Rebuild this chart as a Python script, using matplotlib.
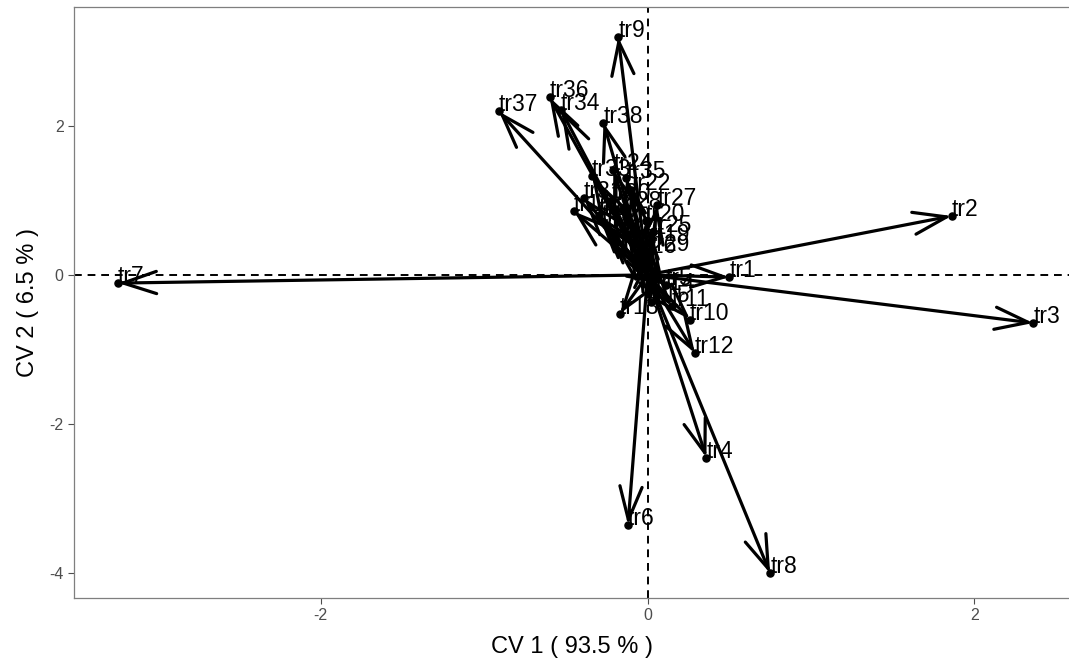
import matplotlib
matplotlib.use("Agg")
import matplotlib.pyplot as plt

plt.rcParams["axes.unicode_minus"] = False

# canonical scores of the traits (CV1, CV2)
traits = ["tr1", "tr2", "tr3", "tr4", "tr5", "tr6", "tr7", "tr8", "tr9", "tr10",
          "tr11", "tr12", "tr13", "tr14", "tr15", "tr16", "tr17", "tr18", "tr19", "tr20",
          "tr21", "tr22", "tr23", "tr24", "tr25", "tr26", "tr27", "tr28", "tr29", "tr30",
          "tr31", "tr32", "tr33", "tr34", "tr35", "tr36", "tr37", "tr38"]
cv1 = [0.50, 1.86, 2.36, 0.36, 0.11, -0.12, -3.24, 0.75, -0.18, 0.26,
       0.15, 0.29, -0.17, 0.05, 0.02, -0.45, -0.25, -0.30, 0.02, -0.01,
       -0.12, -0.10, -0.20, -0.21, 0.03, -0.06, 0.06, -0.15, 0.02, -0.22,
       -0.39, -0.28, -0.34, -0.53, -0.13, -0.60, -0.91, -0.27]
cv2 = [-0.03, 0.79, -0.645, -2.45, -0.13, -3.35, -0.11, -4.0, 3.19, -0.60,
       -0.42, -1.05, -0.52, -0.20, -0.36, 0.85, 0.65, 0.80, 0.45, 0.72,
       0.55, 1.14, 0.40, 1.41, 0.58, 0.30, 0.93, 0.90, 0.32, 1.00,
       1.03, 0.72, 1.32, 2.21, 1.30, 2.38, 2.19, 2.04]

x_label = "CV 1 ( 93.5 % )"
y_label = "CV 2 ( 6.5 % )"

fig = plt.figure(figsize=(10.69, 6.62), dpi=100)
ax = fig.add_axes([0.0692, 0.0967, 0.9318, 0.8927])

ax.axhline(0, color="black", lw=1.4, ls=(0, (4, 3)), zorder=1)
ax.axvline(0, color="black", lw=1.4, ls=(0, (4, 3)), zorder=1)

for name, x, y in zip(traits, cv1, cv2):
    ax.annotate("", xy=(x, y), xytext=(0, 0),
                arrowprops=dict(arrowstyle="->,head_length=2.4,head_width=0.8",
                                mutation_scale=10, lw=2.3, color="black",
                                shrinkA=0, shrinkB=0), zorder=2)

ax.scatter(cv1, cv2, s=26, color="black", zorder=3)
for name, x, y in zip(traits, cv1, cv2):
    ax.text(x, y, name, ha="left", va="baseline", fontsize=16.5,
            family="Liberation Sans", zorder=4)

ax.set_xlim(-3.51, 2.585)
ax.set_ylim(-4.33, 3.59)
ax.set_xticks([-2, 0, 2])
ax.set_yticks([-4, -2, 0, 2])
ax.tick_params(colors="#4d4d4d", labelsize=11.5, length=4, width=0.8)
for lab in ax.get_xticklabels() + ax.get_yticklabels():
    lab.set_family("Liberation Sans")
for s in ax.spines.values():
    s.set_color("#7f7f7f")
    s.set_linewidth(0.9)
ax.spines["right"].set_visible(False)

ax.set_xlabel(x_label, fontsize=17, family="Liberation Sans", labelpad=9)
ax.set_ylabel(y_label, fontsize=17, family="Liberation Sans", labelpad=7)

fig.savefig("out.png", dpi=100)
